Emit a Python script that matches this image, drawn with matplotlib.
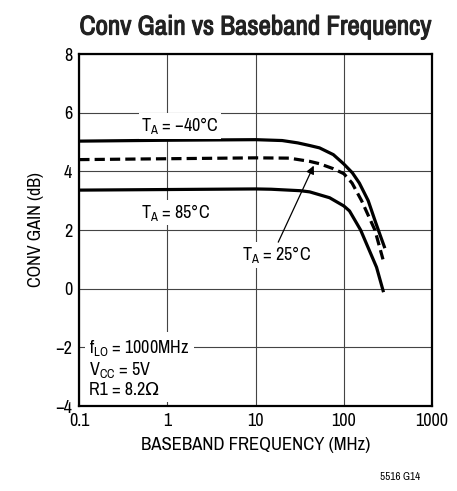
import matplotlib.pyplot as plt
import matplotlib.patheffects as pe

FONT = 'Archivo Narrow'
plt.rcParams['font.family'] = [FONT, 'DejaVu Sans']
plt.rcParams['mathtext.fontset'] = 'custom'
plt.rcParams['mathtext.rm'] = FONT
plt.rcParams['mathtext.it'] = FONT
plt.rcParams['mathtext.default'] = 'regular'

# conv gain (dB) vs baseband frequency (MHz)
f_m40 = [0.1, 1, 10, 20, 30, 41, 53, 76, 100, 125, 150, 189, 230, 260, 292]
g_m40 = [5.03, 5.06, 5.08, 5.05, 4.97, 4.88, 4.80, 4.57, 4.25, 3.95, 3.6, 3.0, 2.25, 1.8, 1.38]

f_25 = [0.1, 1, 10, 24, 41, 53, 76, 100, 124, 159, 225, 278]
g_25 = [4.40, 4.43, 4.46, 4.45, 4.34, 4.26, 4.09, 3.92, 3.6, 3.0, 2.0, 1.0]

f_85 = [0.1, 1, 10, 15, 32, 41, 69, 100, 116, 155, 235, 282]
g_85 = [3.36, 3.38, 3.40, 3.39, 3.34, 3.30, 3.10, 2.82, 2.65, 2.0, 0.73, -0.12]

x_ticks = [0.1, 1, 10, 100, 1000]
x_labels = ['0.1', '1', '10', '100', '1000']
y_ticks = [-4, -2, 0, 2, 4, 6, 8]

fig = plt.figure(figsize=(4.57, 4.91), dpi=100)
ax = fig.add_axes([0.1735, 0.1731, 0.7718, 0.7169])

lw = 2.3
ax.plot(f_m40, g_m40, color='black', lw=lw, solid_capstyle='butt', zorder=3)
ax.plot(f_25, g_25, color='black', lw=lw, dashes=(3.2, 1.6), zorder=3)
ax.plot(f_85, g_85, color='black', lw=lw, solid_capstyle='butt', zorder=3)

ax.set_xscale('log')
ax.set_xlim(0.1, 1000)
ax.set_ylim(-4, 8)
ax.set_xticks(x_ticks)
ax.set_xticklabels(x_labels)
ax.set_yticks(y_ticks)
ax.set_yticklabels([str(v).replace('-', '\u2212') for v in y_ticks])
ax.minorticks_off()
ax.tick_params(length=0, labelsize=13, pad=5)
ax.grid(True, color='#444444', lw=0.8)
ax.set_axisbelow(True)
for s in ax.spines.values():
    s.set_linewidth(1.6)

ax.set_title('Conv Gain vs Baseband Frequency', fontsize=19.5, pad=14, color='#222222',
             path_effects=[pe.withStroke(linewidth=0.8, foreground='#222222')])
ax.set_xlabel('BASEBAND FREQUENCY (MHz)', fontsize=13.5, labelpad=6)
ax.set_ylabel('CONV GAIN (dB)', fontsize=13, labelpad=8)

box = dict(facecolor='white', edgecolor='none', pad=1.5)
ax.text(0.5, 5.55, 'T$_A$ = \u221240\u00b0C', fontsize=13, va='center', ha='left', bbox=box, zorder=4)
ax.text(0.5, 2.6, 'T$_A$ = 85\u00b0C', fontsize=13, va='center', ha='left', bbox=box, zorder=4)
ax.text(7.0, 1.15, 'T$_A$ = 25\u00b0C', fontsize=13, va='center', ha='left', bbox=box, zorder=4)
ax.annotate('', xy=(47, 4.28), xytext=(17.5, 1.5),
            arrowprops=dict(arrowstyle='-|>', color='black', lw=0.9, mutation_scale=12), zorder=4)

ax.text(0.13, -2.7, 'f$_{LO}$ = 1000MHz\nV$_{CC}$ = 5V\nR1 = 8.2\u03a9', fontsize=13,
        va='center', ha='left', linespacing=1.15,
        bbox=dict(facecolor='white', edgecolor='none', pad=3), zorder=4)

fig.text(0.92, 0.018, '5516 G14', fontsize=8, ha='right', va='bottom')

fig.savefig('out.png', dpi=100)
